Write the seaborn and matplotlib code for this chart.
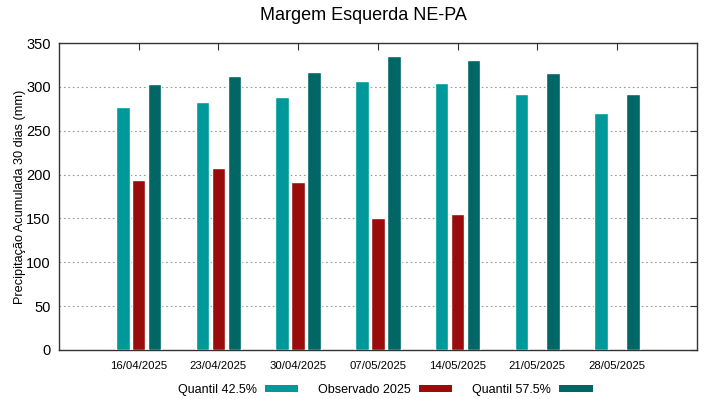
import numpy as np
import pandas as pd
import seaborn as sns
import matplotlib.pyplot as plt
from matplotlib.patches import Patch

dates = ["16/04/2025", "23/04/2025", "30/04/2025", "07/05/2025",
         "14/05/2025", "21/05/2025", "28/05/2025"]
q425 = [277, 283, 288, 307, 304, 292, 270]
observado = [194, 207, 191, 150, 155, np.nan, np.nan]
q575 = [303, 313, 317, 335, 331, 316, 292]

series = ["Quantil 42.5%", "Observado 2025", "Quantil 57.5%"]
colors = ["#009999", "#990c0c", "#006666"]

df = pd.DataFrame({
    "data": dates * 3,
    "serie": [series[0]] * 7 + [series[1]] * 7 + [series[2]] * 7,
    "valor": q425 + observado + q575,
})

sns.set_style("white")
plt.rcParams["font.family"] = ["Liberation Sans", "DejaVu Sans"]
plt.rcParams.update({"text.color": "black", "axes.labelcolor": "black",
                     "xtick.labelcolor": "black", "ytick.labelcolor": "black"})

fig, ax = plt.subplots(figsize=(7.19, 3.99), dpi=100)
fig.subplots_adjust(left=0.082, right=0.969, top=0.892, bottom=0.123)

sns.barplot(data=df, x="data", y="valor", hue="serie", hue_order=series,
            palette=colors, width=0.6, gap=0.15, saturation=1,
            legend=False, ax=ax, zorder=3)

ax.set_xlim(-1, 7)
ax.set_ylim(0, 350)
ax.set_yticks(range(0, 351, 50))
ax.yaxis.grid(True, linestyle=(0, (1.5, 2.5)), color="#999999", linewidth=0.8)
ax.set_axisbelow(True)

ax.tick_params(axis="both", direction="in", top=True, right=True, length=5,
               color="#333333")
ax.tick_params(axis="y", labelsize=10.5, pad=6)
ax.tick_params(axis="x", labelsize=8.2, pad=8)
for s in ax.spines.values():
    s.set_color("#333333")
    s.set_linewidth(1)

ax.set_xlabel("")
ax.set_ylabel("Precipitação Acumulada 30 dias (mm)", fontsize=9.2, labelpad=0)

# title is centred on the figure, not on the axes
fig.text(0.506, 0.96, "Margem Esquerda NE-PA", fontsize=13,
         ha="center", va="center")

handles = [Patch(facecolor=c, edgecolor="none") for c in colors]
fig.legend(handles, series, loc="lower center", bbox_to_anchor=(0.536, -0.02),
           ncol=3, frameon=False, markerfirst=False, fontsize=9,
           handlelength=2.65, handleheight=0.45, columnspacing=1.6,
           handletextpad=0.65)

fig.savefig("out.png", dpi=100)
